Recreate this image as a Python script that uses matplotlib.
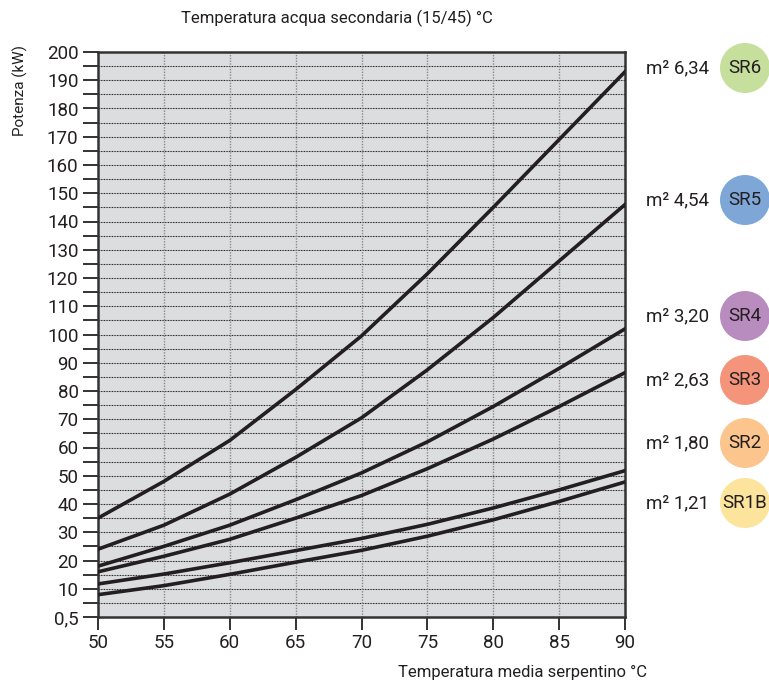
import numpy as np
import matplotlib.pyplot as plt
from matplotlib.patches import Circle

# =============================================================================
# Data
# =============================================================================
temp = [50, 55, 60, 65, 70, 75, 80, 85, 90]

sr6 = [35, 48, 62.5, 80.5, 99.5, 121.5, 145, 169, 193]
sr5 = [24, 32.5, 43.5, 56.5, 70.5, 87.5, 106, 126, 146]
sr4 = [18, 25, 32.5, 41.5, 51, 62, 74.5, 88, 102]
sr3 = [16, 21.5, 27.5, 35, 43, 52.5, 63, 74.5, 86.5]
sr2 = [11.7, 15.2, 19.2, 23.5, 27.8, 32.8, 38.6, 45, 51.8]
sr1b = [7.9, 11.1, 15.1, 19.4, 23.6, 28.6, 34.4, 40.9, 47.8]

series = [sr6, sr5, sr4, sr3, sr2, sr1b]
models = ["SR6", "SR5", "SR4", "SR3", "SR2", "SR1B"]
surfaces = ["6,34", "4,54", "3,20", "2,63", "1,80", "1,21"]
badge_colors = ["#c6df9c", "#7ea7d8", "#b98cbf", "#f4957b", "#fbc58d", "#fde49c"]

y_ticks = list(range(0, 201, 10))
y_labels = ["0,5"] + [str(v) for v in y_ticks[1:]]
x_ticks = list(range(50, 91, 5))

# =============================================================================
# Figure
# =============================================================================
plt.rcParams['font.family'] = ['Liberation Sans Narrow', 'DejaVu Sans Condensed',
                               'Roboto', 'DejaVu Sans']

fig = plt.figure(figsize=(7.69, 6.81), dpi=100)
ax = fig.add_axes([98 / 769, 1 - 617 / 681, 527 / 769, 565 / 681])
ax.set_facecolor("#dcdddf")

# grid: every 5 units both ways
for v in np.arange(5, 200, 5):
    ax.axhline(v, color="#a0a0a0", lw=0.6, zorder=1)
    ax.axhline(v, color="#2a2a2a", lw=0.8, linestyle=(0, (1, 1.4)), zorder=1)
for v in x_ticks[1:-1]:
    ax.axvline(v, color="#8a8a8a", lw=1.0, linestyle=(0, (1, 1)), zorder=1)

for vals in series:
    ax.plot(temp, vals, color="#231f20", lw=2.6, solid_joinstyle="round", zorder=3)

ax.set_xlim(50, 90)
ax.set_ylim(0, 200)
ax.set_xticks(x_ticks)
ax.set_yticks(y_ticks)
ax.set_yticklabels(y_labels)
ax.set_yticks(np.arange(5, 200, 10), minor=True)
ax.tick_params(axis="both", which="both", direction="out", length=11, width=1.4,
               color="#333333", labelsize=13.5, pad=3, labelcolor="#231f20")
ax.tick_params(axis="x", length=9)
for sp in ax.spines.values():
    sp.set_color("#333333")
    sp.set_linewidth(1.8)

fig.text(337 / 769, 1 - 18 / 681, "Temperatura acqua secondaria (15/45) °C",
         ha="center", va="center", fontsize=12, color="#231f20")
fig.text(522 / 769, 1 - 672 / 681, "Temperatura media serpentino °C",
         ha="center", va="center", fontsize=12, color="#231f20")
fig.text(20 / 769, 1 - 90 / 681, "Potenza (kW)", rotation=90,
         ha="center", va="center", fontsize=11, color="#231f20")

# right-hand badges
ov = fig.add_axes([0, 0, 1, 1], facecolor="none")
ov.set_xlim(0, 769)
ov.set_ylim(681, 0)
ov.axis("off")
badge_y = [68, 200, 316, 380, 443, 503]
for name, surf, col, yc in zip(models, surfaces, badge_colors, badge_y):
    ov.add_patch(Circle((745, yc), 25, facecolor=col, edgecolor="none"))
    ov.text(745, yc, name, ha="center", va="center", fontsize=13.5, color="#231f20")
    ov.text(709, yc, f"m² {surf}", ha="right", va="center", fontsize=13.5, color="#231f20")

fig.savefig("out.png", dpi=100)
